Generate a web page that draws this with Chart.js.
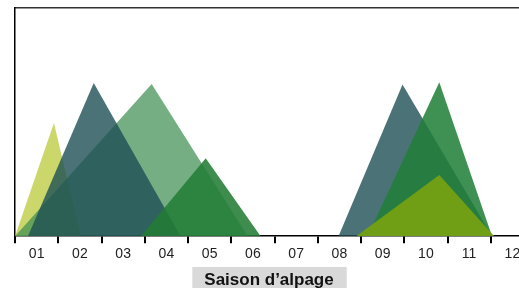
<!DOCTYPE html>
<html>
<head>
<meta charset="utf-8">
<script src="https://cdn.jsdelivr.net/npm/chart.js@4/dist/chart.umd.min.js"></script>
<style>
  html, body { margin: 0; padding: 0; overflow: hidden; background: #fff; }
  #wrap { width: 540px; height: 288px; position: relative; }
</style>
</head>
<body>
<div id="wrap"><canvas id="c"></canvas></div>
<script>
// months on the x axis (ticks are month boundaries, labels sit in the middle)
const months = ['01', '02', '03', '04', '05', '06', '07', '08', '09', '10', '11', '12'];
const axisTitle = 'Saison d\u2019alpage';

// each season is a triangle: start, peak, end (in months) and height
const yellowX = [0.0, 0.90, 1.52];
const yellowY = [0, 49.6, 0];
const tealAX = [0.30, 1.82, 3.83];
const tealAY = [0, 67.1, 0];
const paleX = [0.0, 3.16, 5.38];
const paleY = [0, 66.7, 0];
const greenAX = [2.91, 4.41, 5.68];
const greenAY = [0, 34.2, 0];
const tealBX = [7.48, 8.96, 11.03];
const tealBY = [0, 66.5, 0];
const greenBX = [8.15, 9.81, 11.03];
const greenBY = [0, 67.5, 0];
const oliveX = [7.89, 9.81, 11.08];
const oliveY = [0, 26.8, 0];

function pts(xs, ys) {
  return xs.map((x, i) => ({x: x, y: ys[i]}));
}

function area(data, color, order) {
  return {
    data: data,
    backgroundColor: color,
    borderWidth: 0,
    pointRadius: 0,
    fill: 'origin',
    tension: 0,
    order: order
  };
}

// grey box behind the axis title
const boxTitle = {
  id: 'boxTitle',
  afterDraw(chart) {
    const ctx = chart.ctx;
    ctx.save();
    ctx.font = 'bold 17px Arial, "Liberation Sans", sans-serif';
    const w = ctx.measureText(axisTitle).width;
    const cx = 269;
    ctx.fillStyle = '#d9d9d9';
    ctx.fillRect(cx - w / 2 - 12, 267, w + 25, 30);
    ctx.fillStyle = '#111';
    ctx.textAlign = 'center';
    ctx.textBaseline = 'alphabetic';
    ctx.fillText(axisTitle, cx, 285);
    ctx.restore();
  }
};

const config = {
  type: 'line',
  data: {
    datasets: [
      area(pts(yellowX, yellowY), 'rgba(190,205,70,0.8)', 7),
      area(pts(paleX, paleY), 'rgba(60,140,80,0.7)', 6),
      area(pts(tealAX, tealAY), 'rgba(30,80,85,0.8)', 5),
      area(pts(greenAX, greenAY), 'rgba(35,125,55,0.88)', 4),
      area(pts(tealBX, tealBY), 'rgba(30,80,85,0.8)', 3),
      area(pts(greenBX, greenBY), 'rgba(35,128,58,0.87)', 2),
      area(pts(oliveX, oliveY), 'rgba(115,160,20,0.97)', 1)
    ]
  },
  options: {
    responsive: true,
    maintainAspectRatio: false,
    animation: false,
    layout: { padding: { left: 7, right: 6, top: 0, bottom: 22 } },
    plugins: {
      legend: { display: false },
      tooltip: { enabled: false },
      title: { display: false }
    },
    scales: {
      x: {
        type: 'linear',
        position: 'bottom',
        min: 0,
        max: 12,
        afterBuildTicks: (scale) => {
          const t = [];
          for (let i = 0; i <= 24; i++) t.push({value: i / 2});
          scale.ticks = t;
        },
        ticks: {
          autoSkip: false,
          maxRotation: 0,
          minRotation: 0,
          padding: 3,
          color: '#222',
          font: { family: 'Arial, "Liberation Sans", sans-serif', size: 14 },
          callback: (v) => Number.isInteger(v) ? '' : months[Math.floor(v)]
        },
        grid: {
          drawOnChartArea: false,
          drawTicks: true,
          tickLength: 7,
          lineWidth: 2,
          tickColor: (c) => (c.tick && Number.isInteger(c.tick.value)) ? '#000' : 'rgba(0,0,0,0)'
        },
        border: { display: true, color: '#000', width: 1.5 }
      },
      xTop: {
        type: 'linear',
        position: 'top',
        min: 0,
        max: 12,
        ticks: { display: false },
        grid: { display: false },
        border: { display: true, color: '#333', width: 1.5 }
      },
      y: {
        min: 0,
        max: 100,
        ticks: { display: false },
        grid: { display: false },
        border: { display: true, color: '#000', width: 1.5 }
      }
    }
  },
  plugins: [boxTitle]
};

new Chart(document.getElementById('c'), config);
</script>
</body>
</html>
